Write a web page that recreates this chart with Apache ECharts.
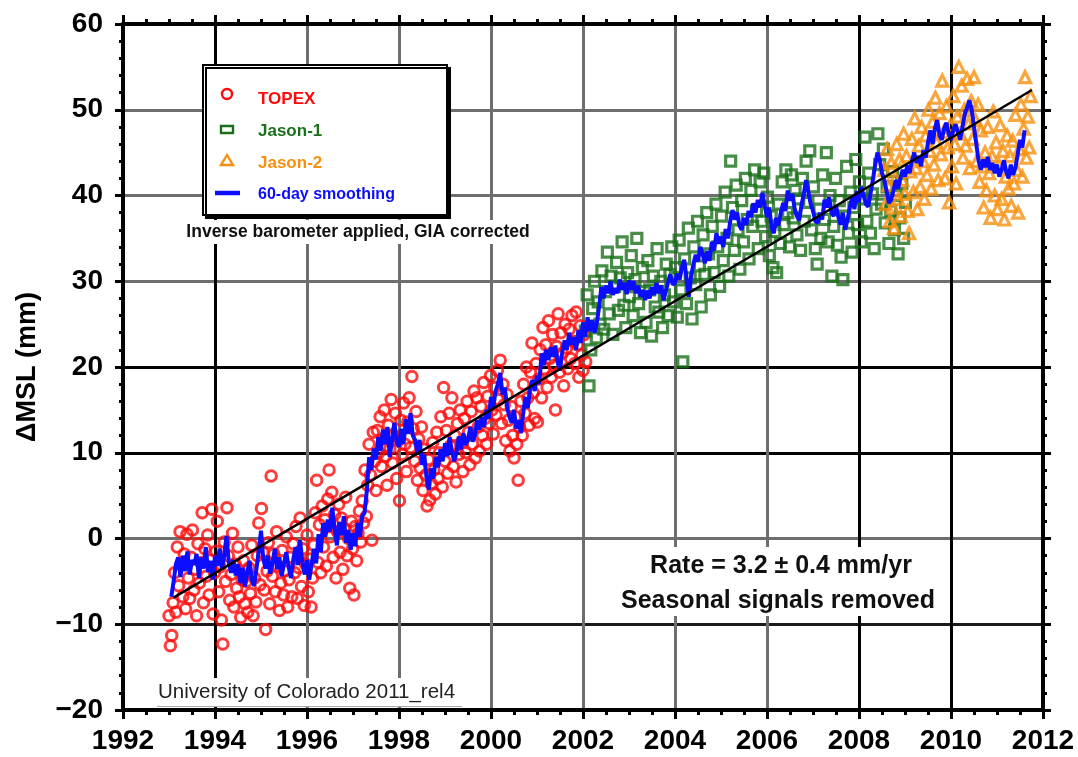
<!DOCTYPE html>
<html><head><meta charset="utf-8">
<script src="https://cdn.jsdelivr.net/npm/echarts@6/dist/echarts.min.js"></script>
<style>html,body{margin:0;padding:0;background:#fff}#c{width:1078px;height:757px}</style>
</head><body><div id="c"></div>
<script>
const topex = [[1993.00,-9.0],[1993.03,-12.5],[1993.06,-11.3],[1993.09,-7.5],[1993.12,-4.0],[1993.15,-8.6],[1993.18,-1.0],[1993.21,-5.5],[1993.24,0.8],[1993.27,-3.0],[1993.30,-6.8],[1993.33,-1.8],[1993.36,-8.2],[1993.39,0.5],[1993.42,-4.6],[1993.45,-7.0],[1993.48,-2.2],[1993.51,1.0],[1993.54,-6.0],[1993.57,-3.6],[1993.60,-9.0],[1993.63,-0.6],[1993.66,-5.2],[1993.69,-2.8],[1993.72,3.0],[1993.75,-7.5],[1993.78,-1.2],[1993.81,-4.4],[1993.84,0.4],[1993.87,-6.6],[1993.90,-2.5],[1993.93,3.4],[1993.96,-8.8],[1993.99,-4.0],[1994.02,-1.5],[1994.05,2.0],[1994.08,-6.2],[1994.11,-3.3],[1994.14,-9.5],[1994.17,-12.3],[1994.20,-0.4],[1994.23,-5.0],[1994.26,3.6],[1994.29,-2.0],[1994.32,-7.2],[1994.35,-4.2],[1994.38,0.6],[1994.41,-8.0],[1994.44,-3.0],[1994.47,-5.8],[1994.50,-1.0],[1994.53,-6.8],[1994.56,-9.2],[1994.59,-4.8],[1994.62,-2.6],[1994.65,-7.6],[1994.68,-5.0],[1994.71,-8.6],[1994.74,-3.4],[1994.77,-6.4],[1994.80,-0.8],[1994.83,-9.0],[1994.86,-4.6],[1994.89,-7.4],[1994.92,-2.0],[1994.95,1.8],[1994.98,-5.4],[1995.01,3.5],[1995.04,-1.6],[1995.07,-6.0],[1995.10,-10.6],[1995.13,-3.8],[1995.16,-0.5],[1995.19,-7.6],[1995.22,7.3],[1995.25,-4.4],[1995.28,-1.8],[1995.31,-6.2],[1995.34,0.8],[1995.37,-3.2],[1995.40,-8.4],[1995.43,-5.2],[1995.46,-1.4],[1995.49,-6.6],[1995.52,-3.8],[1995.55,0.2],[1995.58,-8.0],[1995.61,-4.8],[1995.64,-2.2],[1995.67,-6.8],[1995.70,-0.6],[1995.73,-4.0],[1995.76,1.4],[1995.79,-7.0],[1995.82,-3.4],[1995.85,2.4],[1995.88,-5.6],[1995.91,-1.2],[1995.94,-7.8],[1995.97,-3.0],[1996.00,0.4],[1996.03,-6.2],[1996.06,-2.4],[1996.09,-8.0],[1996.12,-4.6],[1996.15,-0.8],[1996.18,3.0],[1996.21,6.8],[1996.24,-2.8],[1996.27,1.6],[1996.30,-4.0],[1996.33,3.8],[1996.36,-1.0],[1996.39,2.2],[1996.42,-3.2],[1996.45,4.6],[1996.48,8.0],[1996.51,0.2],[1996.54,5.4],[1996.57,-2.2],[1996.60,2.8],[1996.63,-4.6],[1996.66,0.8],[1996.69,4.0],[1996.72,-1.6],[1996.75,2.4],[1996.78,-3.6],[1996.81,1.2],[1996.84,4.8],[1996.87,-2.0],[1996.90,0.0],[1996.93,-5.8],[1996.96,2.0],[1996.99,-1.2],[1997.02,-6.6],[1997.05,1.4],[1997.08,-2.6],[1997.11,0.6],[1997.14,3.2],[1997.17,-0.4],[1997.20,4.4],[1997.23,1.8],[1997.26,8.0],[1997.29,2.6],[1997.32,6.2],[1997.35,11.0],[1997.38,7.4],[1997.41,-0.2],[1997.44,12.4],[1997.47,9.0],[1997.50,5.6],[1997.53,12.6],[1997.56,10.0],[1997.59,14.2],[1997.62,8.4],[1997.65,11.6],[1997.68,15.0],[1997.71,9.6],[1997.74,6.2],[1997.77,13.2],[1997.80,10.4],[1997.83,16.2],[1997.86,8.8],[1997.89,12.0],[1997.92,14.6],[1997.95,7.0],[1997.98,11.4],[1998.01,4.4],[1998.04,13.8],[1998.07,9.8],[1998.10,15.8],[1998.13,11.0],[1998.16,7.8],[1998.19,13.6],[1998.22,16.4],[1998.25,10.6],[1998.28,18.9],[1998.31,12.8],[1998.34,9.0],[1998.37,14.8],[1998.40,6.8],[1998.43,11.6],[1998.46,8.2],[1998.49,13.0],[1998.52,5.6],[1998.55,10.4],[1998.58,7.4],[1998.61,3.8],[1998.64,9.2],[1998.67,4.5],[1998.70,6.4],[1998.73,11.2],[1998.76,8.0],[1998.79,5.2],[1998.82,12.4],[1998.85,7.0],[1998.88,10.0],[1998.91,14.2],[1998.94,6.0],[1998.97,17.6],[1999.00,9.0],[1999.03,12.6],[1999.06,7.6],[1999.09,14.6],[1999.12,10.8],[1999.15,16.4],[1999.18,8.4],[1999.21,12.0],[1999.24,6.6],[1999.27,13.4],[1999.30,9.8],[1999.33,15.0],[1999.36,11.2],[1999.39,7.8],[1999.42,14.0],[1999.45,10.0],[1999.48,16.0],[1999.51,12.4],[1999.54,8.6],[1999.57,14.8],[1999.60,11.0],[1999.63,17.2],[1999.66,9.4],[1999.69,16.4],[1999.72,13.0],[1999.75,10.2],[1999.78,15.4],[1999.81,12.0],[1999.84,18.2],[1999.87,14.0],[1999.90,11.0],[1999.93,16.6],[1999.96,13.4],[1999.99,19.0],[2000.02,15.0],[2000.05,12.2],[2000.08,17.6],[2000.11,14.4],[2000.14,19.6],[2000.17,16.2],[2000.20,20.8],[2000.23,13.4],[2000.26,18.0],[2000.29,15.6],[2000.32,11.4],[2000.35,16.8],[2000.38,13.8],[2000.41,10.2],[2000.44,15.4],[2000.47,12.0],[2000.50,9.4],[2000.53,14.2],[2000.56,11.0],[2000.59,6.8],[2000.62,13.0],[2000.65,16.0],[2000.68,12.0],[2000.71,18.0],[2000.74,14.6],[2000.77,20.0],[2000.80,16.4],[2000.83,13.2],[2000.86,19.4],[2000.89,22.8],[2000.92,17.0],[2000.95,14.0],[2000.98,20.4],[2001.01,13.6],[2001.04,18.6],[2001.07,22.0],[2001.10,16.4],[2001.13,24.6],[2001.16,19.8],[2001.19,22.6],[2001.22,17.6],[2001.25,25.4],[2001.28,21.0],[2001.31,18.8],[2001.34,23.8],[2001.37,20.2],[2001.40,15.0],[2001.43,22.4],[2001.46,26.2],[2001.49,19.4],[2001.52,24.0],[2001.55,21.6],[2001.58,17.8],[2001.61,25.0],[2001.64,22.2],[2001.67,19.8],[2001.70,24.4],[2001.73,21.0],[2001.76,26.0],[2001.79,23.0],[2001.82,20.4],[2001.85,26.4],[2001.88,22.6],[2001.91,18.8],[2001.94,24.8],[2001.97,21.4],[2002.00,19.6],[2002.03,23.8],[2002.06,20.6]];

const jason1 = [[2002.05,24.2],[2002.09,28.4],[2002.13,17.8],[2002.17,22.0],[2002.21,26.8],[2002.25,30.0],[2002.29,23.4],[2002.33,27.6],[2002.37,25.0],[2002.41,31.2],[2002.45,24.4],[2002.49,28.8],[2002.53,33.4],[2002.57,26.2],[2002.61,30.6],[2002.65,23.8],[2002.69,29.4],[2002.73,32.2],[2002.77,26.6],[2002.81,30.4],[2002.85,34.6],[2002.89,27.2],[2002.93,24.6],[2002.97,31.0],[2003.01,28.2],[2003.05,33.0],[2003.09,26.0],[2003.13,30.2],[2003.17,35.0],[2003.21,27.4],[2003.25,24.0],[2003.29,31.6],[2003.33,28.8],[2003.37,25.2],[2003.41,32.4],[2003.45,29.0],[2003.49,23.6],[2003.53,30.6],[2003.57,27.0],[2003.61,33.8],[2003.65,26.4],[2003.69,30.0],[2003.73,24.6],[2003.77,28.4],[2003.81,32.0],[2003.85,26.0],[2003.89,30.8],[2003.93,34.0],[2003.97,27.6],[2004.01,31.6],[2004.05,25.8],[2004.09,34.8],[2004.13,29.0],[2004.17,20.6],[2004.21,32.6],[2004.25,27.4],[2004.29,36.2],[2004.33,30.4],[2004.37,25.6],[2004.41,34.0],[2004.45,29.6],[2004.49,37.0],[2004.53,31.8],[2004.57,27.0],[2004.61,35.4],[2004.65,30.8],[2004.69,38.0],[2004.73,33.2],[2004.77,28.4],[2004.81,36.4],[2004.85,31.0],[2004.89,39.0],[2004.93,34.0],[2004.97,29.4],[2005.01,37.6],[2005.05,32.4],[2005.09,40.4],[2005.13,35.0],[2005.17,30.6],[2005.21,44.0],[2005.25,38.6],[2005.29,33.6],[2005.33,41.2],[2005.37,36.0],[2005.41,31.4],[2005.45,39.4],[2005.49,34.6],[2005.53,42.0],[2005.57,37.2],[2005.61,32.6],[2005.65,40.6],[2005.69,36.4],[2005.73,43.0],[2005.77,38.2],[2005.81,33.8],[2005.85,41.6],[2005.89,37.0],[2005.93,42.6],[2005.97,35.2],[2006.01,39.8],[2006.05,33.0],[2006.09,37.6],[2006.13,31.6],[2006.17,35.8],[2006.21,31.0],[2006.25,39.0],[2006.29,34.4],[2006.33,41.6],[2006.37,36.6],[2006.41,43.0],[2006.45,38.0],[2006.49,34.0],[2006.53,42.4],[2006.57,37.4],[2006.61,40.6],[2006.65,35.4],[2006.69,39.6],[2006.73,33.6],[2006.77,42.0],[2006.81,37.0],[2006.85,44.0],[2006.89,39.2],[2006.93,45.2],[2006.97,36.0],[2007.01,41.0],[2007.05,33.8],[2007.09,32.0],[2007.13,38.4],[2007.17,35.0],[2007.21,42.4],[2007.25,37.2],[2007.29,45.0],[2007.33,34.6],[2007.37,40.0],[2007.41,30.6],[2007.45,36.4],[2007.49,42.0],[2007.53,34.2],[2007.57,39.4],[2007.61,32.8],[2007.65,30.2],[2007.69,37.6],[2007.73,43.4],[2007.77,35.6],[2007.81,40.4],[2007.85,33.4],[2007.89,38.6],[2007.93,44.2],[2007.97,36.6],[2008.01,41.6],[2008.05,34.6],[2008.09,39.6],[2008.13,46.8],[2008.17,37.0],[2008.21,42.6],[2008.25,35.6],[2008.29,40.2],[2008.33,33.8],[2008.37,38.4],[2008.41,47.2],[2008.45,43.6],[2008.49,39.0],[2008.53,45.4],[2008.57,36.8],[2008.61,41.0],[2008.65,34.4],[2008.69,38.2],[2008.73,42.8],[2008.77,36.0],[2008.81,40.0],[2008.85,33.2],[2008.89,37.4],[2008.93,41.4],[2008.97,35.0],[2009.01,39.2]];

const jason2 = [[2008.55,43.0],[2008.58,39.0],[2008.61,45.4],[2008.64,41.2],[2008.67,37.0],[2008.70,43.8],[2008.73,38.6],[2008.76,36.2],[2008.79,42.0],[2008.82,46.0],[2008.85,39.6],[2008.88,44.2],[2008.91,37.6],[2008.94,41.8],[2008.97,47.2],[2009.00,40.2],[2009.03,44.6],[2009.06,38.2],[2009.09,35.6],[2009.12,42.8],[2009.15,46.6],[2009.18,40.4],[2009.21,49.0],[2009.24,43.2],[2009.27,38.4],[2009.30,45.8],[2009.33,41.0],[2009.36,48.0],[2009.39,44.0],[2009.42,39.6],[2009.45,47.0],[2009.48,42.4],[2009.51,50.0],[2009.54,45.2],[2009.57,40.8],[2009.60,48.6],[2009.63,43.6],[2009.66,51.4],[2009.69,46.2],[2009.72,41.8],[2009.75,49.6],[2009.78,44.8],[2009.81,53.4],[2009.84,47.4],[2009.87,42.0],[2009.90,50.4],[2009.93,45.6],[2009.96,39.2],[2009.99,48.2],[2010.02,43.4],[2010.05,51.6],[2010.08,46.0],[2010.11,41.4],[2010.14,49.2],[2010.17,55.0],[2010.20,47.2],[2010.23,52.8],[2010.26,44.4],[2010.29,50.0],[2010.32,45.8],[2010.35,53.6],[2010.38,48.4],[2010.41,43.2],[2010.44,51.0],[2010.47,46.6],[2010.50,53.8],[2010.53,48.8],[2010.56,44.0],[2010.59,50.6],[2010.62,41.6],[2010.65,47.6],[2010.68,43.4],[2010.71,38.6],[2010.74,45.0],[2010.77,40.6],[2010.80,48.0],[2010.83,42.6],[2010.86,37.4],[2010.89,44.6],[2010.92,49.8],[2010.95,40.0],[2010.98,46.2],[2011.01,38.4],[2011.04,43.6],[2011.07,48.2],[2011.10,39.6],[2011.13,45.2],[2011.16,37.2],[2011.19,42.2],[2011.22,47.0],[2011.25,40.8],[2011.28,44.6],[2011.31,38.8],[2011.34,46.4],[2011.37,41.4],[2011.40,49.4],[2011.43,43.0],[2011.46,38.0],[2011.49,45.4],[2011.52,50.6],[2011.55,42.2],[2011.58,47.8],[2011.61,53.8],[2011.64,44.4],[2011.67,49.2],[2011.70,45.6],[2011.73,51.6]];

const smooth60 = [[1993.05,-6.8],[1993.10,-5.0],[1993.15,-3.0],[1993.20,-2.2],[1993.25,-4.5],[1993.30,-2.0],[1993.35,-3.8],[1993.40,-1.5],[1993.45,-4.2],[1993.50,-2.5],[1993.55,-3.0],[1993.60,-1.8],[1993.65,-4.6],[1993.70,-2.2],[1993.75,-3.5],[1993.80,-1.0],[1993.85,-3.9],[1993.90,-2.6],[1993.95,-4.8],[1994.00,-2.0],[1994.05,-3.2],[1994.10,-1.2],[1994.15,-3.6],[1994.20,-2.0],[1994.25,0.3],[1994.30,-2.8],[1994.35,-4.0],[1994.40,-2.5],[1994.45,-4.3],[1994.50,-3.0],[1994.55,-5.2],[1994.60,-3.4],[1994.65,-5.6],[1994.70,-4.0],[1994.75,-2.6],[1994.80,-4.8],[1994.85,-5.5],[1994.90,-3.6],[1994.95,-1.5],[1995.00,0.9],[1995.05,-2.4],[1995.10,-3.5],[1995.15,-2.0],[1995.20,-4.1],[1995.25,-2.8],[1995.30,-1.2],[1995.35,-3.6],[1995.40,-2.2],[1995.45,-4.4],[1995.50,-2.9],[1995.55,-1.6],[1995.60,-3.3],[1995.65,-4.6],[1995.70,-2.5],[1995.75,-1.0],[1995.80,-3.1],[1995.85,-0.2],[1995.90,-2.8],[1995.95,-4.2],[1996.00,-2.5],[1996.05,-4.8],[1996.10,-3.0],[1996.15,-1.2],[1996.20,-2.9],[1996.25,0.5],[1996.30,-1.6],[1996.35,1.8],[1996.40,0.2],[1996.45,2.2],[1996.50,0.8],[1996.55,3.6],[1996.60,1.2],[1996.65,-0.8],[1996.70,1.9],[1996.75,0.4],[1996.80,2.6],[1996.85,-0.5],[1996.90,1.0],[1996.95,-1.3],[1997.00,0.6],[1997.05,-0.9],[1997.10,1.8],[1997.15,0.2],[1997.20,2.6],[1997.25,3.0],[1997.30,5.5],[1997.35,9.5],[1997.40,8.0],[1997.45,10.5],[1997.50,9.2],[1997.55,11.8],[1997.60,10.2],[1997.65,12.7],[1997.70,11.0],[1997.75,13.0],[1997.80,9.5],[1997.85,11.6],[1997.90,13.5],[1997.95,11.2],[1998.00,10.7],[1998.05,12.8],[1998.10,11.0],[1998.15,13.9],[1998.20,12.2],[1998.25,14.6],[1998.30,12.0],[1998.35,11.5],[1998.40,10.0],[1998.45,11.5],[1998.50,8.6],[1998.55,9.8],[1998.60,7.0],[1998.65,5.7],[1998.70,8.2],[1998.75,7.0],[1998.80,9.5],[1998.85,8.3],[1998.90,10.4],[1998.95,9.0],[1999.00,11.1],[1999.05,9.6],[1999.10,11.8],[1999.15,10.2],[1999.20,9.0],[1999.25,10.0],[1999.30,11.9],[1999.35,10.4],[1999.40,12.3],[1999.45,10.9],[1999.50,11.5],[1999.55,13.0],[1999.60,11.3],[1999.65,12.0],[1999.70,13.8],[1999.75,12.7],[1999.80,14.2],[1999.85,13.0],[1999.90,15.0],[1999.95,14.0],[2000.00,16.5],[2000.05,15.3],[2000.10,17.2],[2000.15,18.0],[2000.20,19.3],[2000.25,16.8],[2000.30,17.6],[2000.35,15.3],[2000.40,14.2],[2000.45,13.5],[2000.50,15.0],[2000.55,12.8],[2000.60,13.8],[2000.65,12.3],[2000.70,14.6],[2000.75,16.5],[2000.80,15.2],[2000.85,17.4],[2000.90,18.5],[2000.95,17.2],[2001.00,19.0],[2001.05,18.0],[2001.10,21.6],[2001.15,20.2],[2001.20,22.0],[2001.25,20.8],[2001.30,22.3],[2001.35,21.2],[2001.40,22.5],[2001.45,20.5],[2001.50,19.6],[2001.55,21.8],[2001.60,23.1],[2001.65,22.0],[2001.70,24.0],[2001.75,22.6],[2001.80,23.5],[2001.85,22.0],[2001.90,24.3],[2001.95,22.8],[2002.00,25.2],[2002.05,23.5],[2002.10,25.8],[2002.15,24.2],[2002.20,25.5],[2002.25,24.0],[2002.30,25.1],[2002.35,27.0],[2002.40,29.3],[2002.45,28.0],[2002.50,29.5],[2002.55,28.6],[2002.60,30.0],[2002.65,28.4],[2002.70,29.2],[2002.75,28.6],[2002.80,30.2],[2002.85,29.0],[2002.90,29.8],[2002.95,28.5],[2003.00,30.1],[2003.05,29.0],[2003.10,30.0],[2003.15,28.6],[2003.20,29.5],[2003.25,28.2],[2003.30,29.0],[2003.35,27.8],[2003.40,28.9],[2003.45,28.0],[2003.50,29.3],[2003.55,28.4],[2003.60,29.8],[2003.65,28.6],[2003.70,29.5],[2003.75,27.8],[2003.80,28.8],[2003.85,29.9],[2003.90,30.8],[2003.95,29.6],[2004.00,29.8],[2004.05,30.9],[2004.10,30.2],[2004.15,31.6],[2004.20,32.5],[2004.25,30.4],[2004.30,28.2],[2004.35,30.6],[2004.40,32.0],[2004.45,33.1],[2004.50,32.3],[2004.55,34.0],[2004.60,33.2],[2004.65,32.1],[2004.70,33.5],[2004.75,32.4],[2004.80,34.6],[2004.85,33.6],[2004.90,35.6],[2004.95,34.4],[2005.00,35.2],[2005.05,34.0],[2005.10,36.1],[2005.15,35.0],[2005.20,37.0],[2005.25,38.3],[2005.30,37.2],[2005.35,38.0],[2005.40,36.5],[2005.45,36.0],[2005.50,37.4],[2005.55,36.6],[2005.60,38.2],[2005.65,37.5],[2005.70,39.1],[2005.75,38.0],[2005.80,39.5],[2005.85,38.6],[2005.90,40.3],[2005.95,38.8],[2006.00,37.5],[2006.05,38.6],[2006.10,36.2],[2006.15,35.6],[2006.20,37.4],[2006.25,36.5],[2006.30,38.0],[2006.35,39.1],[2006.40,38.2],[2006.45,40.6],[2006.50,39.4],[2006.55,40.2],[2006.60,38.5],[2006.65,37.6],[2006.70,37.1],[2006.75,38.9],[2006.80,40.2],[2006.85,41.8],[2006.90,40.4],[2006.95,39.0],[2007.00,38.2],[2007.05,37.0],[2007.10,36.8],[2007.15,38.0],[2007.20,37.2],[2007.25,39.5],[2007.30,38.6],[2007.35,39.8],[2007.40,38.0],[2007.45,37.6],[2007.50,38.8],[2007.55,37.5],[2007.60,36.6],[2007.65,38.0],[2007.70,36.0],[2007.75,37.2],[2007.80,38.6],[2007.85,39.8],[2007.90,38.4],[2007.95,40.5],[2008.00,39.2],[2008.05,41.0],[2008.10,40.0],[2008.15,39.0],[2008.20,38.7],[2008.25,40.2],[2008.30,41.8],[2008.35,43.5],[2008.40,45.0],[2008.45,44.2],[2008.50,42.6],[2008.55,41.8],[2008.60,40.5],[2008.65,39.1],[2008.70,39.5],[2008.75,40.6],[2008.80,41.8],[2008.85,40.8],[2008.90,42.0],[2008.95,43.0],[2009.00,42.2],[2009.05,43.5],[2009.10,42.6],[2009.15,44.0],[2009.20,45.0],[2009.25,43.8],[2009.30,44.6],[2009.35,43.4],[2009.40,45.3],[2009.45,44.4],[2009.50,46.2],[2009.55,47.6],[2009.60,46.0],[2009.65,47.8],[2009.70,48.8],[2009.75,47.0],[2009.80,46.5],[2009.85,47.8],[2009.90,48.5],[2009.95,47.2],[2010.00,46.5],[2010.05,47.6],[2010.10,48.3],[2010.15,47.4],[2010.20,46.5],[2010.25,48.0],[2010.30,49.5],[2010.35,50.2],[2010.40,51.1],[2010.45,50.0],[2010.50,48.0],[2010.55,46.0],[2010.60,44.0],[2010.65,43.0],[2010.70,44.2],[2010.75,43.3],[2010.80,44.5],[2010.85,43.0],[2010.90,43.8],[2010.95,42.6],[2011.00,43.6],[2011.05,42.2],[2011.10,43.0],[2011.15,44.1],[2011.20,42.8],[2011.25,42.0],[2011.30,43.6],[2011.35,42.4],[2011.40,43.2],[2011.45,44.8],[2011.50,46.5],[2011.55,45.6],[2011.60,47.6]];

const trend = [[1993.10,-6.9],[2011.76,52.3]];

const seriesNames = ['TOPEX','Jason-1','Jason-2','60-day smoothing'];
const seriesColors = ['#ff0a0a','#1a701a','#f7900f','#0c0cff'];
const rateText = 'Rate = 3.2 \u00b1 0.4 mm/yr';
const seasonText = 'Seasonal signals removed';
const ibText = 'Inverse barometer applied, GIA corrected';
const sourceText = 'University of Colorado 2011_rel4';
const yTitle = '\u0394MSL (mm)';

const FONT = '"Liberation Sans", Arial, Helvetica, sans-serif';
const G = '#6e6e6e';
const xGridColors = ['#000','#000',G,G,G,G,G,G,'#000','#000','#000'];
const yGridColors = ['#000','#1a1a1a',G,'#000','#000',G,G,G,'#000'];
const minus = v => String(v).replace('-', '\u2212');

const chart = echarts.init(document.getElementById('c'), null, {renderer: 'canvas'});

const axisCommonX = {
  type: 'value', min: 1992, max: 2012, interval: 2,
  axisLine: {show: true, onZero: false, lineStyle: {color: '#000', width: 4}},
  axisTick: {show: true, length: 9, lineStyle: {color: '#000', width: 3}},
  minorTick: {show: true, splitNumber: 4, length: 5, lineStyle: {color: '#000', width: 3}}
};
const axisCommonY = {
  type: 'value', min: -20, max: 60, interval: 10,
  axisLine: {show: true, onZero: false, lineStyle: {color: '#000', width: 4}},
  axisTick: {show: true, length: 8, lineStyle: {color: '#000', width: 3}},
  minorTick: {show: true, splitNumber: 5, length: 4, lineStyle: {color: '#000', width: 3}}
};

// legend drawn as graphic elements (box, symbols, coloured labels)
const LX = 203, LY = 65, LW = 244, LH = 150;
const legendRows = [99, 131, 163, 195];
const legendElements = [
  {type: 'rect', z: 20, shape: {x: LX, y: LY, width: LW, height: LH},
   style: {fill: '#fff', stroke: '#000', lineWidth: 2, shadowColor: '#000', shadowBlur: 0, shadowOffsetX: 3, shadowOffsetY: 3}},
  {type: 'circle', z: 21, shape: {cx: 227, cy: 94, r: 5}, style: {fill: 'none', stroke: seriesColors[0], lineWidth: 2.4}},
  {type: 'rect', z: 21, shape: {x: 221, y: 126, width: 12, height: 7}, style: {fill: 'none', stroke: seriesColors[1], lineWidth: 2.4}},
  {type: 'polygon', z: 21, shape: {points: [[227, 155], [233, 165], [221, 165]]}, style: {fill: 'none', stroke: seriesColors[2], lineWidth: 2.4}},
  {type: 'line', z: 21, shape: {x1: 215, y1: 193, x2: 240, y2: 193}, style: {stroke: seriesColors[3], lineWidth: 4.5}}
].concat(seriesNames.map((n, i) => ({
  type: 'text', z: 21, x: 258, y: legendRows[i],
  style: {text: n, fill: seriesColors[i], font: 'bold ' + (i === 3 ? 16 : 17) + 'px ' + FONT, textAlign: 'left', textVerticalAlign: 'middle'}
})));

chart.setOption({
  animation: false,
  backgroundColor: '#fff',
  grid: {left: 123, right: 35, top: 24, bottom: 47, containLabel: false},
  xAxis: [
    Object.assign({}, axisCommonX, {
      position: 'bottom',
      axisLabel: {show: true, margin: 17, color: '#000', fontFamily: FONT, fontWeight: 'bold', fontSize: 28, formatter: v => String(v)},
      splitLine: {show: true, lineStyle: {color: xGridColors, width: 3}}
    }),
    Object.assign({}, axisCommonX, {
      position: 'top',
      axisLabel: {show: false},
      splitLine: {show: false}
    })
  ],
  yAxis: [
    Object.assign({}, axisCommonY, {
      position: 'left',
      name: yTitle, nameLocation: 'middle', nameRotate: 90, nameGap: 82,
      nameTextStyle: {color: '#000', fontFamily: FONT, fontWeight: 'bold', fontSize: 27},
      axisLabel: {show: true, margin: 20, color: '#000', fontFamily: FONT, fontWeight: 'bold', fontSize: 28, formatter: minus},
      splitLine: {show: true, lineStyle: {color: yGridColors, width: 3}}
    }),
    Object.assign({}, axisCommonY, {
      position: 'right',
      axisLabel: {show: false},
      splitLine: {show: false}
    })
  ],
  graphic: {elements: [
    {type: 'rect', z: 10, shape: {x: 184, y: 220, width: 350, height: 24}, style: {fill: '#fff'}},
    {type: 'text', z: 11, x: 358, y: 232, style: {text: ibText, fill: '#111', font: 'bold 17.5px ' + FONT, textAlign: 'center', textVerticalAlign: 'middle'}},
    {type: 'rect', z: 10, shape: {x: 612, y: 547, width: 334, height: 69}, style: {fill: '#fff'}},
    {type: 'text', z: 11, x: 781, y: 566, style: {text: rateText, fill: '#111', font: 'bold 25px ' + FONT, textAlign: 'center', textVerticalAlign: 'middle'}},
    {type: 'text', z: 11, x: 778, y: 601, style: {text: seasonText, fill: '#111', font: 'bold 25px ' + FONT, textAlign: 'center', textVerticalAlign: 'middle'}},
    {type: 'rect', z: 10, shape: {x: 150, y: 678, width: 315, height: 28}, style: {fill: '#fff'}},
    {type: 'line', z: 11, shape: {x1: 157, y1: 706.5, x2: 462, y2: 706.5}, style: {stroke: '#aaa', lineWidth: 1}},
    {type: 'text', z: 11, x: 158, y: 692, style: {text: sourceText, fill: '#222', font: '20.5px ' + FONT, textAlign: 'left', textVerticalAlign: 'middle'}}
  ].concat(legendElements)},
  series: [
    {name: seriesNames[0], type: 'scatter', data: topex, symbol: 'circle', symbolSize: 10.5, z: 2,
     itemStyle: {color: 'rgba(255,255,255,0)', borderColor: seriesColors[0], borderWidth: 3}},
    {name: seriesNames[1], type: 'scatter', data: jason1, symbol: 'rect', symbolSize: 10, z: 3,
     itemStyle: {color: 'rgba(255,255,255,0)', borderColor: seriesColors[1], borderWidth: 3.2}},
    {name: seriesNames[2], type: 'scatter', data: jason2, symbol: 'triangle', symbolSize: 11, z: 4,
     itemStyle: {color: 'rgba(255,255,255,0)', borderColor: seriesColors[2], borderWidth: 3.2}},
    {name: seriesNames[3], type: 'line', data: smooth60, symbol: 'none', showSymbol: false, z: 5,
     lineStyle: {color: seriesColors[3], width: 4}, itemStyle: {color: seriesColors[3]}},
    {name: 'trend', type: 'line', data: trend, symbol: 'none', showSymbol: false, z: 6,
     lineStyle: {color: '#000', width: 2.5}, itemStyle: {color: '#000'}}
  ]
});
</script>
</body></html>
